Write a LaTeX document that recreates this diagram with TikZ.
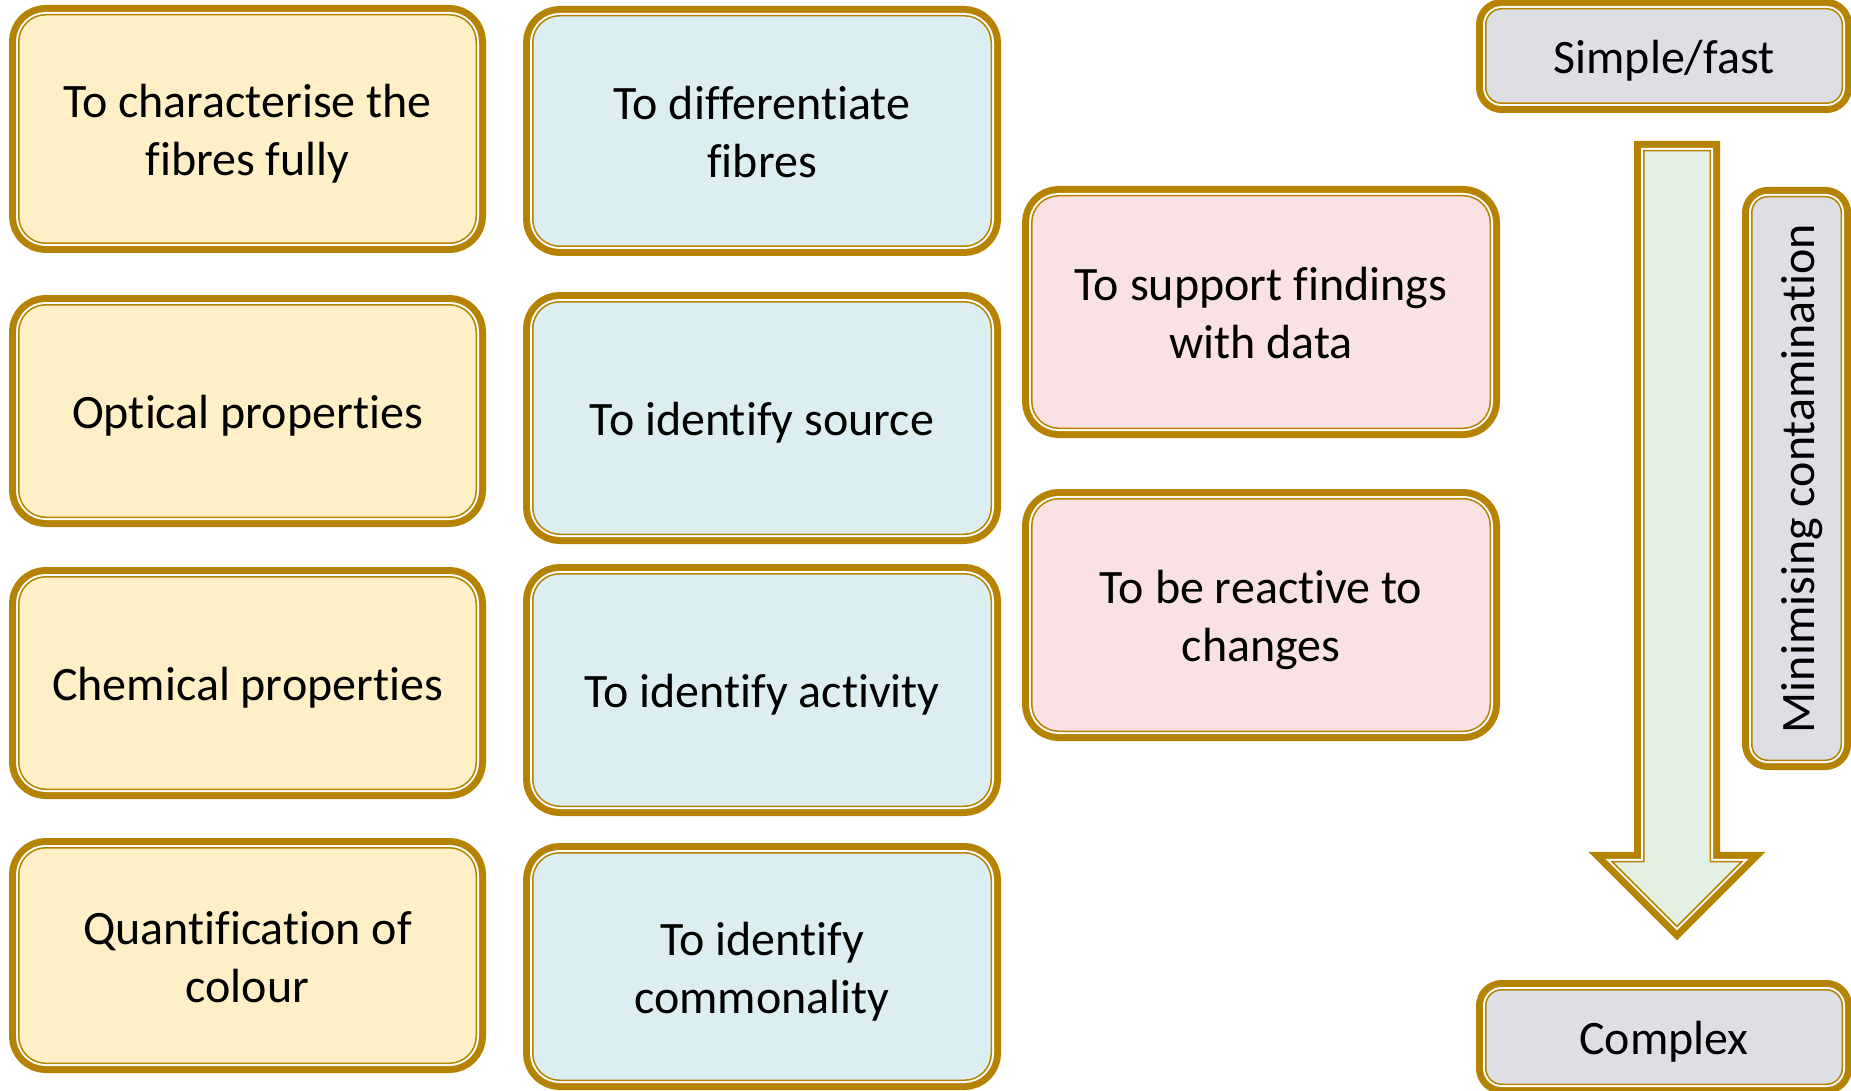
\documentclass[tikz,border=0pt]{standalone}
\usepackage{fontspec}
\setmainfont[Ligatures=NoCommon]{Carlito}
\definecolor{bc}{HTML}{B58300}
\definecolor{ylw}{HTML}{FFEFC7}
\definecolor{blu}{HTML}{DDEEF2}
\definecolor{pnk}{HTML}{FAE1E4}
\definecolor{gry}{HTML}{DEDFE4}
\definecolor{grn}{HTML}{E1F0E2}
\newcommand\boxtext[1]{\raisebox{-6pt}[\height][\depth]{\begin{tabular}{@{}c@{}}#1\end{tabular}}}
\tikzset{
  frame/.style={preaction={draw=bc, line width=19.5pt},
                preaction={draw=white, line width=5.5pt},
                draw=bc, line width=1.5pt},
  cbox/.style={frame, rounded corners=27pt, inner sep=0pt, align=center,
               font=\fontsize{48}{58}\selectfont, text=black},
  ybox/.style={cbox, fill=ylw, minimum width=457.5pt},
  bbox/.style={cbox, fill=blu, minimum width=458.5pt},
  pbox/.style={cbox, fill=pnk, minimum width=458.5pt, minimum height=232.5pt},
  gbox/.style={cbox, fill=gry, rounded corners=16pt},
}
\begin{document}
\begin{tikzpicture}[x=1pt,y=-1pt]
\useasboundingbox (0,0) rectangle (1851,1091);
% yellow column
\node[ybox, minimum height=228.5pt] (y1) at (247.5,129) {\boxtext{To characterise the\\fibres fully}};
\node[ybox, minimum height=212.5pt] (y2) at (247.5,411) {\boxtext{Optical properties}};
\node[ybox, minimum height=212.5pt] (y3) at (247.5,683) {\boxtext{Chemical properties}};
\node[ybox, minimum height=215.5pt] (y4) at (247.5,955.5) {\boxtext{Quantification of\\colour}};
% blue column
\node[bbox, minimum height=230.5pt] (b1) at (762,131) {\boxtext{To differentiate\\fibres}};
\node[bbox, minimum height=232.5pt] (b2) at (762,418) {\boxtext{To identify source}};
\node[bbox, minimum height=232.5pt] (b3) at (762,690) {\boxtext{To identify activity}};
\node[bbox, minimum height=227.5pt] (b4) at (762,966.5) {\boxtext{To identify\\commonality}};
% pink column
\node[pbox] (p1) at (1261,312) {\boxtext{To support findings\\with data}};
\node[pbox] (p2) at (1261,615) {\boxtext{To be reactive to\\changes}};
% gray boxes
\node[gbox, minimum width=356.5pt, minimum height=94.5pt] (g1) at (1664,56) {\boxtext{Simple/fast}};
\node[gbox, minimum width=356.5pt, minimum height=94.5pt] (g2) at (1664,1037) {\boxtext{Complex}};
\node[gbox, rotate=90, minimum width=563.5pt, minimum height=89.5pt] (g3) at (1796.5,478.5) {\boxtext{Minimising contamination}};
% arrow
\draw[frame, fill=grn, line join=miter]
  (1643.75,150.75) -- (1710.25,150.75) -- (1710.25,861.5) -- (1742,861.5)
  -- (1677,926.5) -- (1612,861.5) -- (1643.75,861.5) -- cycle;
\end{tikzpicture}
\end{document}
